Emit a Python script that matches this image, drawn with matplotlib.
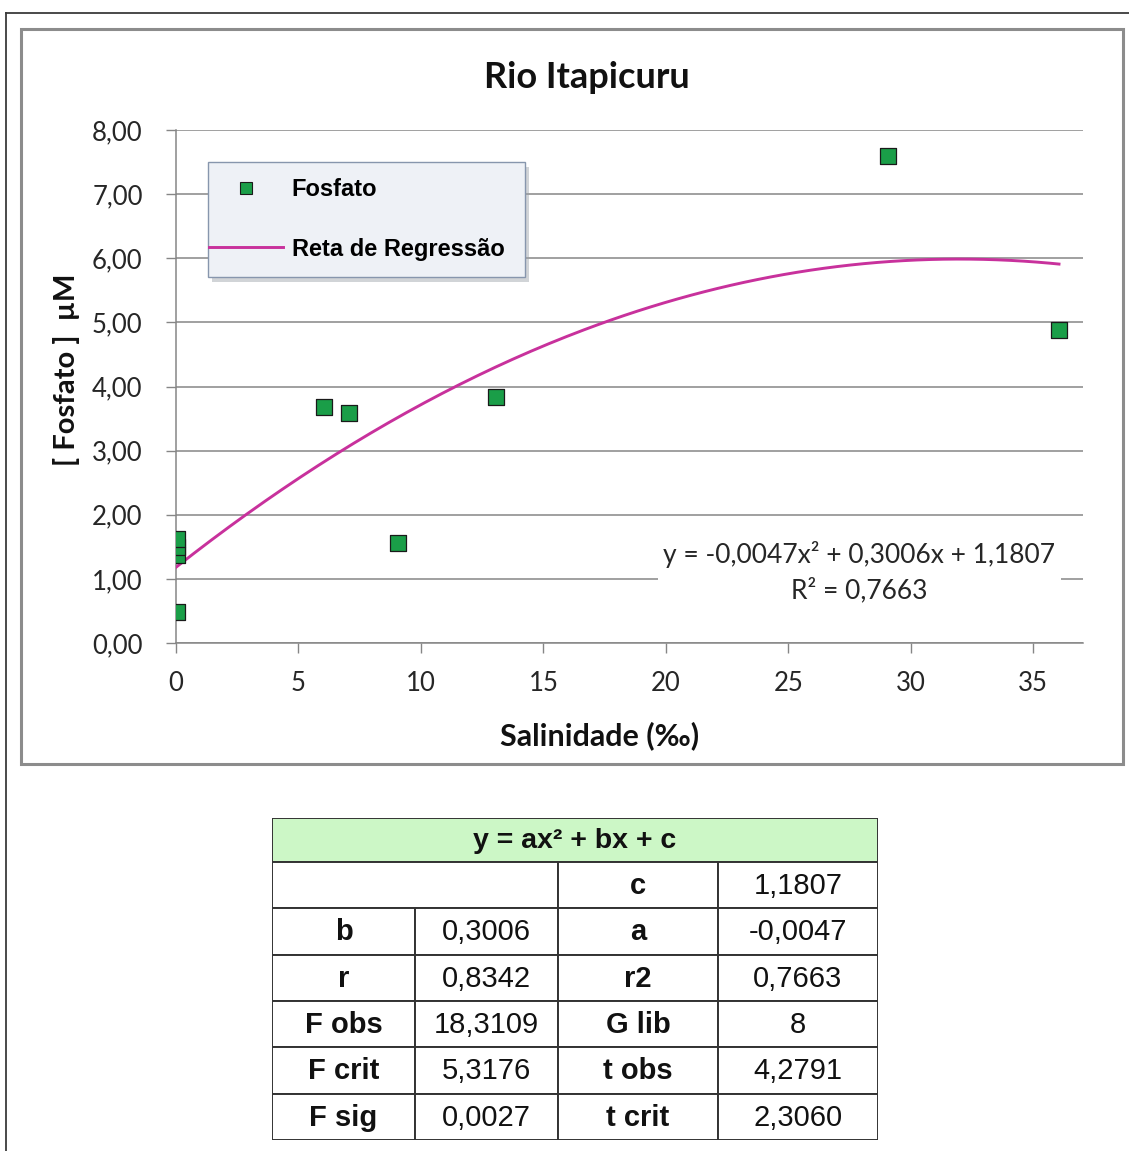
import numpy as np
import matplotlib
matplotlib.use("Agg")
import matplotlib.pyplot as plt
from matplotlib.lines import Line2D
from matplotlib.patches import Rectangle

# salinity (per mille) and phosphate (uM) at the sampling stations
salinidade = [0.05, 0.05, 0.05, 0.05, 6.05, 7.05, 9.05, 13.05, 29.05, 36.05]
fosfato = [0.48, 1.38, 1.50, 1.62, 3.68, 3.58, 1.56, 3.84, 7.60, 4.88]

# quadratic fit y = a x^2 + b x + c
coef_a = -0.0047
coef_b = 0.3006
coef_c = 1.1807
r2 = 0.7663

x_ticks = [0, 5, 10, 15, 20, 25, 30, 35]
y_ticks = [0, 1, 2, 3, 4, 5, 6, 7, 8]
y_tick_labels = ["0,00", "1,00", "2,00", "3,00", "4,00", "5,00", "6,00", "7,00", "8,00"]

# statistics table below the chart
tabela_titulo = "y = ax² + bx + c"
tabela_linhas = [
    ["", "", "c", "1,1807"],
    ["b", "0,3006", "a", "-0,0047"],
    ["r", "0,8342", "r2", "0,7663"],
    ["F obs", "18,3109", "G lib", "8"],
    ["F crit", "5,3176", "t obs", "4,2791"],
    ["F sig", "0,0027", "t crit", "2,3060"],
]


def br(v):
    return f"{v:.4f}".replace(".", ",")


W, H = 1129, 1151
fig = plt.figure(figsize=(W / 100, H / 100), dpi=100)
fig.patch.set_facecolor("white")


def px_box(x0, y0, x1, y1):
    # pixel box (top-left origin) -> figure fraction rect
    return [x0 / W, 1 - y1 / H, (x1 - x0) / W, (y1 - y0) / H]


CAL = ["Lato", "DejaVu Sans"]
ARIAL = ["Liberation Sans", "DejaVu Sans"]

# frames around the whole picture and the chart area
fig.add_artist(Line2D([6 / W, 6 / W], [0, 1 - 13 / H], transform=fig.transFigure, color="#3a3a3a", lw=1.3))
fig.add_artist(Line2D([6 / W, 1], [1 - 13 / H, 1 - 13 / H], transform=fig.transFigure, color="#3a3a3a", lw=1.3))
fig.add_artist(Rectangle((21 / W, 1 - 764 / H), (1123 - 21) / W, (764 - 29) / H,
                         transform=fig.transFigure, fill=False, ec="#8c8c8c", lw=2.2))

ax = fig.add_axes(px_box(176, 130, 1083, 643))
ax.set_xlim(0, 37.03)
ax.set_ylim(0, 8)

ax.set_yticks(y_ticks)
ax.set_yticklabels(y_tick_labels)
ax.set_xticks(x_ticks)
ax.set_xticklabels([str(t) for t in x_ticks])
for lab in ax.get_xticklabels() + ax.get_yticklabels():
    lab.set_fontfamily(CAL)
    lab.set_fontsize(18.5)
    lab.set_color("#262626")
ax.tick_params(axis="y", length=7, width=1, color="#868686", pad=17)
ax.tick_params(axis="x", length=7, width=1, color="#868686", pad=13)

ax.grid(axis="y", color="#868686", lw=1.1)
ax.set_axisbelow(True)
for s in ["top", "right"]:
    ax.spines[s].set_visible(False)
ax.spines["left"].set_color("#868686")
ax.spines["bottom"].set_color("#868686")
ax.spines["left"].set_linewidth(1.1)
ax.spines["bottom"].set_linewidth(1.1)

# regression curve
xs = np.linspace(0, 36.05, 200)
ys = coef_a * xs ** 2 + coef_b * xs + coef_c
ax.plot(xs, ys, color="#c8319c", lw=2.1, zorder=3)

ax.scatter(salinidade, fosfato, marker="s", s=120, c="#1a9e48", edgecolors="#1a1a1a",
           linewidths=0.9, zorder=4)

# equation of the trend line
ax.text(27.9, 1.10, f"y = {br(coef_a)}x² + {br(coef_b)}x + {br(coef_c)}\nR² = {br(r2)}",
        ha="center", va="center", fontsize=19, family=CAL, color="#262626",
        linespacing=1.45, zorder=5,
        bbox=dict(boxstyle="square,pad=0.2", fc="white", ec="none"))

ax.text(0.453, 1.082, "Rio Itapicuru", transform=ax.transAxes, ha="center",
        va="baseline", fontsize=26, fontweight="bold", family=CAL, color="#111111")
ax.set_xlabel("Salinidade (‰)", fontsize=22, fontweight="bold", family=CAL, color="#111111")
ax.xaxis.set_label_coords(0.4675, -0.153)
ax.set_ylabel("[ Fosfato ]  µM", fontsize=21, fontweight="bold", family=CAL, color="#111111")
ax.yaxis.set_label_coords(-0.106, 0.532)

# legend frame with a soft shadow, entries placed inside it
ax.add_patch(Rectangle((212 / W, 1 - 282 / H), (525 - 208) / W, (277 - 162) / H,
                       transform=fig.transFigure, fc="#9aa0a8", ec="none", alpha=0.45,
                       zorder=4.6))
ax.add_patch(Rectangle((208 / W, 1 - 277 / H), (525 - 208) / W, (277 - 162) / H,
                       transform=fig.transFigure, fc="#eef1f6", ec="#8796ad", lw=1.0,
                       zorder=4.7))
handles = [
    Line2D([], [], marker="s", ls="none", color="#1a9e48", mec="#1a1a1a", mew=0.8, ms=8),
    Line2D([], [], color="#c8319c", lw=2.1),
]
leg = ax.legend(handles, ["Fosfato", "Reta de Regressão"], loc="upper left",
                bbox_to_anchor=((209 - 176) / 907, (643 - 178) / 513),
                prop=dict(family=ARIAL, weight="bold", size=17), frameon=False,
                borderpad=0, labelspacing=1.55, handlelength=3.15,
                handletextpad=0.35, borderaxespad=0)
leg.set_zorder(6)

# statistics table
col_w = [143, 143, 160, 160]
row_h_top = 44
row_h = 46.3
tx0, ty0 = 272, 818
tw = sum(col_w)
th = row_h_top + row_h * len(tabela_linhas)
tax = fig.add_axes(px_box(tx0, ty0, tx0 + tw, ty0 + th))
tax.set_xlim(0, tw)
tax.set_ylim(th, 0)
tax.axis("off")

edge = "#333333"
tax.add_patch(Rectangle((0, 0), tw, row_h_top, fc="#ccf7c6", ec=edge, lw=1.4))
tax.text(tw / 2, row_h_top / 2 + 1, tabela_titulo, ha="center", va="center",
         family=ARIAL, weight="bold", fontsize=20.5, color="#111111")

col_x = np.concatenate([[0], np.cumsum(col_w)])
for i, linha in enumerate(tabela_linhas):
    y0 = row_h_top + i * row_h
    j = 0
    while j < 4:
        span = 2 if (linha[j] == "" and j == 0) else 1
        x0 = col_x[j]
        w = col_x[j + span] - x0
        tax.add_patch(Rectangle((x0, y0), w, row_h, fc="white", ec=edge, lw=1.4))
        if linha[j]:
            bold = j in (0, 2)
            tax.text(x0 + w / 2, y0 + row_h / 2 + 1, linha[j], ha="center", va="center",
                     family=ARIAL, weight="bold" if bold else "normal",
                     fontsize=21, color="#111111")
        j += span

fig.savefig("out.png", dpi=100, facecolor="white")
